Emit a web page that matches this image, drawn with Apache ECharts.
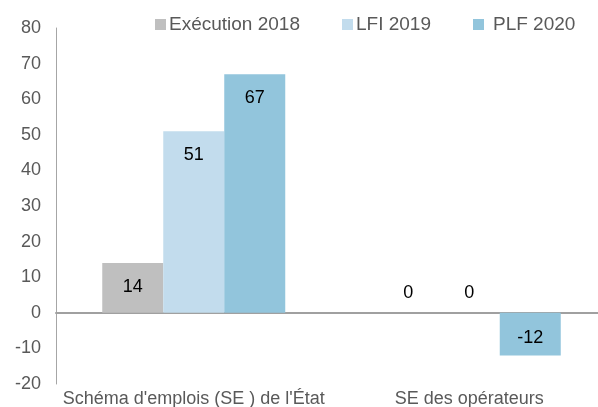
<!DOCTYPE html>
<html>
<head>
<meta charset="utf-8">
<script src="https://cdn.jsdelivr.net/npm/echarts@6/dist/echarts.min.js"></script>
<style>html,body{margin:0;padding:0;background:#fff}#c{width:598px;height:407px}</style>
</head>
<body>
<div id="c"></div>
<script>
var categories = ["Schéma d'emplois (SE ) de l'État", "SE des opérateurs"];
var seriesNames = ["Exécution 2018", "LFI 2019", "PLF 2020"];
var execution2018 = [14, 0];
var lfi2019 = [51, 0];
var plf2020 = [67, -12];
var yTicks = [-20, -10, 0, 10, 20, 30, 40, 50, 60, 70, 80];
var colors = ["#bfbfbf", "#c2dced", "#92c5dc"];

var font = "Liberation Sans, Arial, sans-serif";
function buildData(arr) {
  return arr.map(function (v) {
    var lbl;
    if (v > 0) lbl = { position: 'insideTop', distance: 15 };
    else if (v < 0) lbl = { position: 'insideBottom', distance: 8 };
    else lbl = { position: 'top', distance: 11 };
    return { value: v, label: lbl };
  });
}
var values = [execution2018, lfi2019, plf2020];
var legendPad = [[0, 0, 0, -2], [0, 0, 0, -2], [0, 0, 0, 4]];
var chart = echarts.init(document.getElementById('c'), null, { renderer: 'canvas' });
chart.setOption({
  animation: false,
  backgroundColor: '#fff',
  color: colors,
  legend: {
    data: seriesNames.map(function (n, i) { return { name: n, textStyle: { padding: legendPad[i] } }; }),
    left: 155, top: 15, padding: 0,
    itemWidth: 11, itemHeight: 11, itemGap: 42,
    icon: 'rect',
    textStyle: { fontFamily: font, fontSize: 19, color: '#595959' }
  },
  grid: { left: 56, right: -9, top: 28, bottom: 23, outerBoundsMode: 'none', containLabel: false },
  xAxis: [{
    type: 'category', data: categories, position: 'bottom',
    axisLine: { show: false, onZero: false }, axisTick: { show: false },
    axisLabel: { fontFamily: font, fontSize: 18, color: '#595959', margin: 6, interval: 0 }
  }, {
    type: 'category', data: categories, position: 'bottom',
    axisLine: { show: true, onZero: true, lineStyle: { color: '#a0a0a0', width: 2 } },
    axisTick: { show: false }, axisLabel: { show: false }
  }],
  yAxis: {
    type: 'value', min: yTicks[0], max: yTicks[yTicks.length - 1], interval: 10,
    axisLine: { show: true, lineStyle: { color: '#a6a6a6', width: 1 } },
    axisTick: { show: false }, splitLine: { show: false },
    axisLabel: { fontFamily: font, fontSize: 18, color: '#595959', margin: 15, padding: [3, 0, 0, 0] }
  },
  series: seriesNames.map(function (name, i) {
    return {
      name: name, type: 'bar', xAxisIndex: 0,
      data: buildData(values[i]),
      barWidth: 61, barGap: '0%',
      itemStyle: { color: colors[i] },
      label: { show: true, fontFamily: font, fontSize: 18, color: '#000' }
    };
  })
});
</script>
</body>
</html>
